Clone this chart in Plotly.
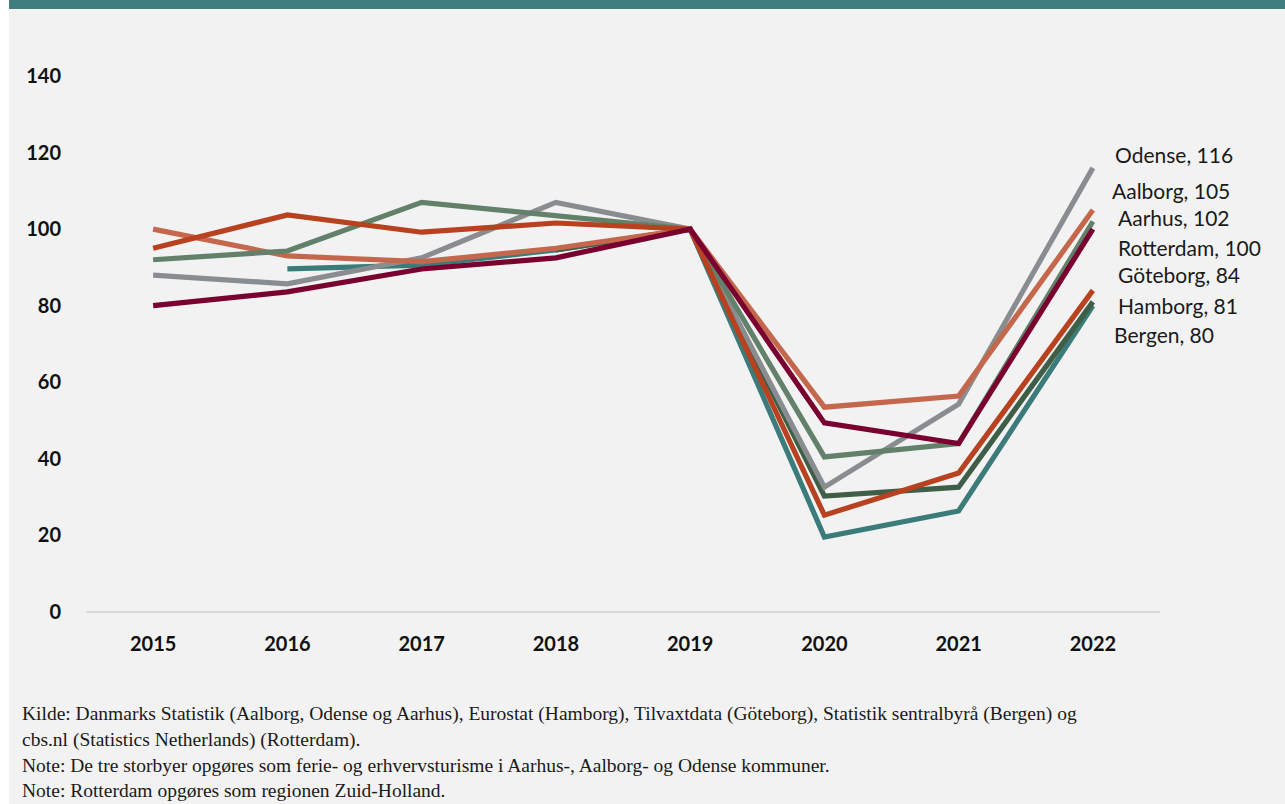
import plotly.graph_objects as go

# Overnatninger, indeks 2019 = 100
years = ["2015", "2016", "2017", "2018", "2019", "2020", "2021", "2022"]

odense = [88, 85.7, 92.5, 107, 100, 32.6, 54.3, 116]
aalborg = [100, 93, 91.5, 95, 100, 53.5, 56.4, 105]
aarhus = [92, 94.3, 107, 103.5, 100, 40.5, 44, 102]
rotterdam = [80, 83.6, 89.6, 92.5, 100, 49.4, 44, 100]
goteborg = [95, 103.7, 99.2, 101.6, 100, 25.3, 36.3, 84]
hamborg = [None, None, None, 94.6, 100, 30.3, 32.6, 81]
bergen = [None, 89.6, 90.6, 94.6, 100, 19.6, 26.4, 80]

y_ticks = [0, 20, 40, 60, 80, 100, 120, 140]

# drawing order (back to front), colour, label position (value units) and left edge (px)
series = [
    ("Bergen", bergen, "#3b7b7a", 72.6, 1112),
    ("Hamborg", hamborg, "#3f5e47", 80.1, 1116),
    ("Odense", odense, "#8a8d8f", 119.4, 1113),
    ("Aalborg", aalborg, "#c4674c", 110.2, 1110),
    ("Aarhus", aarhus, "#62806a", 103.1, 1116),
    ("Göteborg", goteborg, "#b8411f", 88.2, 1116),
    ("Rotterdam", rotterdam, "#7a0030", 95.3, 1116),
]

W, H = 1285, 804
ML, MR, MT, MB = 86, 125, 76, 192
PW = W - ML - MR
PH = H - MT - MB
Y_MAX = 140


def px_to_paper_x(px):
    return (px - ML) / PW


def px_to_paper_y(py):
    return (H - MB - py) / PH


fig = go.Figure()

for name, vals, color, _, _ in series:
    fig.add_trace(go.Scatter(
        x=years, y=vals, mode="lines", name=name,
        line=dict(color=color, width=5.2),
        connectgaps=False,
    ))

label_font = dict(family="Lato", size=21, color="#1a1a1a")
note_font = dict(family="Liberation Serif", size=19.5, color="#1a1a1a")

annotations = []
for name, vals, color, label_y, left_px in series:
    annotations.append(go.layout.Annotation(
        x=px_to_paper_x(left_px), y=label_y / Y_MAX,
        xref="paper", yref="paper",
        text=f"{name}, {vals[-1]:.0f}", showarrow=False,
        xanchor="left", yanchor="middle",
        font=label_font,
    ))

notes = [
    "Kilde: Danmarks Statistik (Aalborg, Odense og Aarhus), Eurostat (Hamborg), Tilvaxtdata (Göteborg), "
    "Statistik sentralbyrå (Bergen) og",
    "cbs.nl (Statistics Netherlands) (Rotterdam).",
    "Note: De tre storbyer opgøres som ferie- og erhvervsturisme i Aarhus-, Aalborg- og Odense kommuner.",
    "Note: Rotterdam opgøres som regionen Zuid-Holland.",
]
note_y = [714, 740, 765, 790]
for txt, py in zip(notes, note_y):
    annotations.append(go.layout.Annotation(
        x=px_to_paper_x(20), y=px_to_paper_y(py), xref="paper", yref="paper",
        text=txt, showarrow=False, xanchor="left", yanchor="middle",
        font=note_font,
    ))

shapes = [
    # light panel
    dict(type="rect", xref="paper", yref="paper", layer="below",
         x0=px_to_paper_x(9), x1=px_to_paper_x(W + 5),
         y0=px_to_paper_y(H + 5), y1=px_to_paper_y(0),
         fillcolor="#f2f2f2", line=dict(width=0)),
    # header band
    dict(type="rect", xref="paper", yref="paper", layer="below",
         x0=px_to_paper_x(9), x1=px_to_paper_x(W + 5),
         y0=px_to_paper_y(9), y1=px_to_paper_y(-5),
         fillcolor="#3f7e7d", line=dict(width=0)),
]

tick_font = dict(family="Lato", size=20, color="#111111", weight="bold")

fig.update_layout(
    width=W, height=H,
    margin=dict(l=ML, r=MR, t=MT, b=MB, pad=0),
    paper_bgcolor="#ffffff",
    plot_bgcolor="rgba(0,0,0,0)",
    showlegend=False,
    shapes=shapes,
    xaxis=dict(
        type="category", range=[-0.5, 7.5],
        showgrid=False, zeroline=False, showline=False,
        ticks="outside", ticklen=14, tickcolor="rgba(0,0,0,0)",
        tickfont=tick_font,
    ),
    yaxis=dict(
        range=[0, Y_MAX], tickvals=y_ticks, ticktext=[str(v) for v in y_ticks],
        showgrid=False, showline=False,
        zeroline=True, zerolinecolor="#d9d9d9", zerolinewidth=2,
        ticks="outside", ticklen=20, tickcolor="rgba(0,0,0,0)",
        tickfont=tick_font,
    ),
)
for a in annotations:
    fig.add_annotation(a)

fig.write_html("out.html")
